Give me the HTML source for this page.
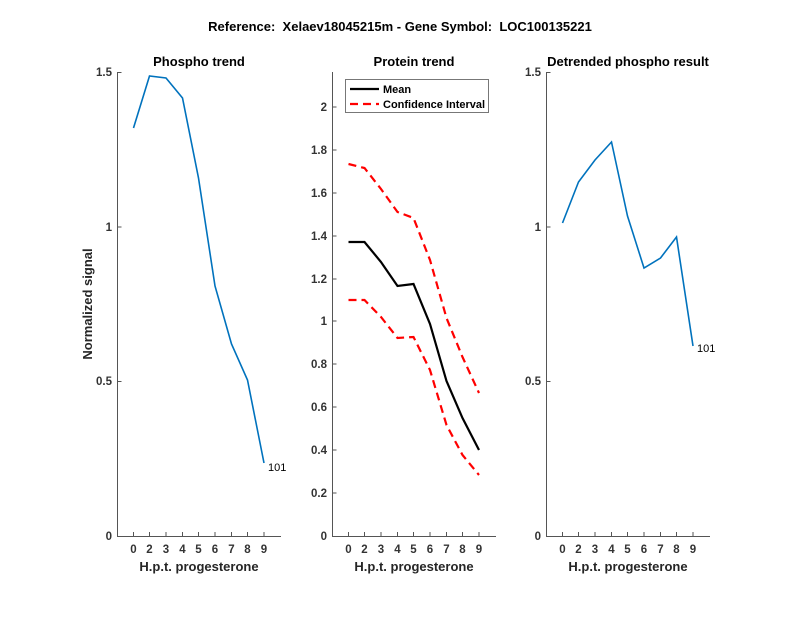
<!DOCTYPE html>
<html><head><style>body{margin:0;background:#fff}</style></head><body>
<svg width="800" height="618" xmlns="http://www.w3.org/2000/svg" font-family="Liberation Sans, Arial, sans-serif">
<rect width="800" height="618" fill="#fff"/>
<text x="400" y="31" text-anchor="middle" font-size="13" font-weight="bold">Reference:&#160; Xelaev18045215m - Gene Symbol:&#160; LOC100135221</text>
<g font-size="13" font-weight="bold" text-anchor="middle" fill="#000">
<text x="199" y="66">Phospho trend</text>
<text x="414" y="66">Protein trend</text>
<text x="628" y="66">Detrended phospho result</text>
</g>
<g font-size="13" font-weight="bold" text-anchor="middle" fill="#262626">
<text x="199" y="571">H.p.t. progesterone</text>
<text x="414" y="571">H.p.t. progesterone</text>
<text x="628" y="571">H.p.t. progesterone</text>
<text transform="translate(92,304) rotate(-90)">Normalized signal</text>
</g>
<g stroke="#555" stroke-width="1" fill="none">
<path d="M117.5,72V536.5H281"/>
<path d="M332.5,72V536.5H496"/>
<path d="M546.5,72V536.5H710"/>
</g>
<g stroke="#555" stroke-width="1">
<path d="M117.5,72.5h4M117.5,227h4M117.5,381.5h4"/>
<path d="M546.5,72.5h4M546.5,227h4M546.5,381.5h4"/>
<path d="M332.5,493h4M332.5,450h4M332.5,407h4M332.5,364h4M332.5,321h4M332.5,279h4M332.5,236h4M332.5,193h4M332.5,150h4M332.5,107h4"/>
<path d="M133.5,536v-4M149.5,536v-4M166,536v-4M182.5,536v-4M198.5,536v-4M215,536v-4M231.5,536v-4M247.5,536v-4M264,536v-4"/>
<path d="M348.5,536v-4M364.5,536v-4M381,536v-4M397.5,536v-4M413.5,536v-4M430,536v-4M446.5,536v-4M462.5,536v-4M479,536v-4"/>
<path d="M562.5,536v-4M578.5,536v-4M595,536v-4M611.5,536v-4M627.5,536v-4M644,536v-4M660.5,536v-4M676.5,536v-4M693,536v-4"/>
</g>
<g font-size="11.5" font-weight="bold" fill="#333" text-anchor="end">
<text x="112" y="76">1.5</text><text x="112" y="231">1</text><text x="112" y="385">0.5</text><text x="112" y="540">0</text>
<text x="541" y="76">1.5</text><text x="541" y="231">1</text><text x="541" y="385">0.5</text><text x="541" y="540">0</text>
<text x="327" y="540">0</text><text x="327" y="497">0.2</text><text x="327" y="454">0.4</text><text x="327" y="411">0.6</text><text x="327" y="368">0.8</text><text x="327" y="325">1</text><text x="327" y="283">1.2</text><text x="327" y="240">1.4</text><text x="327" y="197">1.6</text><text x="327" y="154">1.8</text><text x="327" y="111">2</text>
</g>
<g font-size="11.5" font-weight="bold" fill="#333" text-anchor="middle">
<text x="133.5" y="553">0</text><text x="149.5" y="553">2</text><text x="166" y="553">3</text><text x="182.5" y="553">4</text><text x="198.5" y="553">5</text><text x="215" y="553">6</text><text x="231.5" y="553">7</text><text x="247.5" y="553">8</text><text x="264" y="553">9</text>
<text x="348.5" y="553">0</text><text x="364.5" y="553">2</text><text x="381" y="553">3</text><text x="397.5" y="553">4</text><text x="413.5" y="553">5</text><text x="430" y="553">6</text><text x="446.5" y="553">7</text><text x="462.5" y="553">8</text><text x="479" y="553">9</text>
<text x="562.5" y="553">0</text><text x="578.5" y="553">2</text><text x="595" y="553">3</text><text x="611.5" y="553">4</text><text x="627.5" y="553">5</text><text x="644" y="553">6</text><text x="660.5" y="553">7</text><text x="676.5" y="553">8</text><text x="693" y="553">9</text>
</g>
<polyline fill="none" stroke="#0072BD" stroke-width="1.6" points="133.5,128 149.5,76 166,78 182.5,98 198.5,178 215,286 231.5,344 247.5,380 264,463"/>
<text x="268" y="471" font-size="11" fill="#000">101</text>
<polyline fill="none" stroke="#0072BD" stroke-width="1.6" points="562.5,223 578.5,182 595,160 611.5,142 627.5,216 644,268 660.5,258 676.5,237 693,346"/>
<text x="697" y="352" font-size="11" fill="#000">101</text>
<polyline fill="none" stroke="#000" stroke-width="2.2" points="348.5,242 364.5,242 381,262 397.5,286 413.5,284 430,324 446.5,381 462.5,418 479,450"/>
<polyline fill="none" stroke="#f00" stroke-width="2.2" stroke-dasharray="8,5" points="348.5,164 364.5,168 381,189 397.5,212 413.5,218 430,260 446.5,318 462.5,357 479,393"/>
<polyline fill="none" stroke="#f00" stroke-width="2.2" stroke-dasharray="8,5" points="348.5,300 364.5,300 381,317 397.5,338 413.5,337 430,370 446.5,425 462.5,455 479,475"/>
<rect x="345.5" y="79.5" width="143" height="33" fill="#fff" stroke="#777"/>
<line x1="350" y1="89" x2="379" y2="89" stroke="#000" stroke-width="2.2"/>
<line x1="350" y1="104" x2="379" y2="104" stroke="#f00" stroke-width="2.2" stroke-dasharray="8,5"/>
<text x="383" y="93" font-size="11" font-weight="bold">Mean</text>
<text x="383" y="108" font-size="11" font-weight="bold">Confidence Interval</text>
</svg>
</body></html>
